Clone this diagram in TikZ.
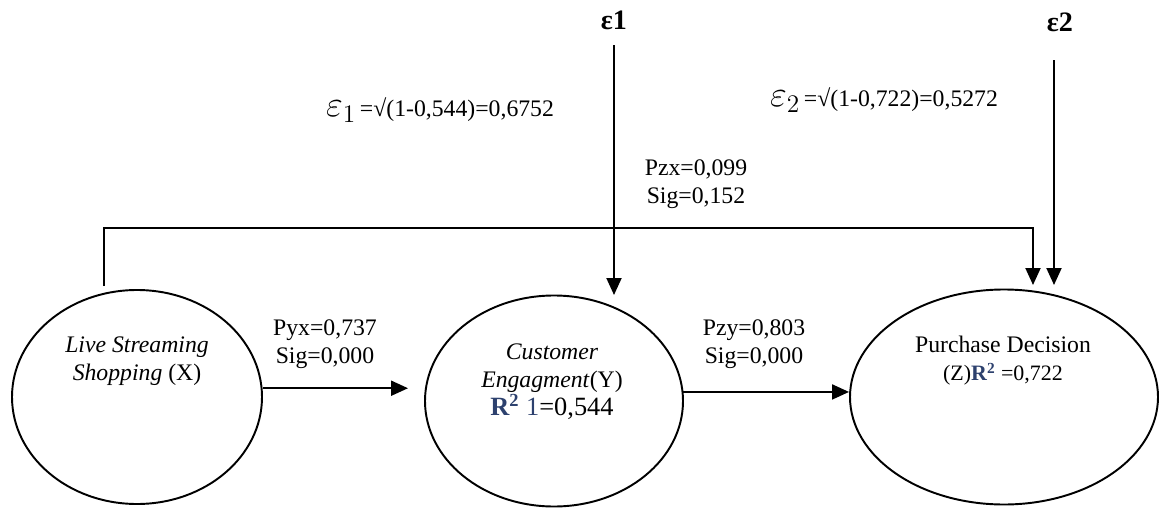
\documentclass[tikz,border=0pt]{standalone}
\usepackage{fontspec}
\setmainfont{Liberation Serif}
\usetikzlibrary{arrows.meta,shapes.geometric,positioning}
\definecolor{rsq}{RGB}{45,65,110}

\begin{document}
\begin{tikzpicture}[->,>={Triangle[length=0.34cm,width=0.3cm]}, line width=1.1pt,
  var/.style={draw,ellipse,inner sep=0pt},
  txt/.style={align=center,inner sep=0pt,font=\fontsize{13.5}{16}\selectfont},
  err/.style={inner sep=0pt,font=\bfseries\fontsize{16}{16}\selectfont}]
  \useasboundingbox (0,0) rectangle (23.32,10.18);

  \node [var,minimum width=5cm,minimum height=4.28cm] (lss) at (2.74,2.24) {};
  \node [var,minimum width=5.16cm,minimum height=4.22cm] (ce) at (11.08,2.16) {};
  \node [var,minimum width=6.16cm,minimum height=4.3cm] (pd) at (20.08,2.24) {};

  \node [txt] (lsstext) at (2.74,2.96) {\textit{Live Streaming}\\\textit{Shopping} (X)};
  \node [txt] (cetext) at (11.04,2.54) {\textit{Customer}\\\textit{Engagment}(Y)\\{\fontsize{15}{16}\selectfont\textcolor{rsq}{\textbf{R\textsuperscript{2}} 1}=0,544}};
  \node [txt] (pdtext) at (20.06,2.96) {Purchase Decision\\{\fontsize{12.5}{16}\selectfont(Z)\textcolor{rsq}{\textbf{R\textsuperscript{2}}} =0,722}};

  \node [txt] (pyx) at (6.5,3.3) {Pyx=0,737\\Sig=0,000};
  \node [txt] (pzy) at (15.08,3.3) {Pzy=0,803\\Sig=0,000};
  \node [txt] (pzx) at (13.92,6.5) {Pzx=0,099\\Sig=0,152};

  \node [err] (e1) at (12.28,9.78) {ε1};
  \node [err] (e2) at (21.2,9.74) {ε2};
  \node [txt] (e1val) at (8.8,7.98) {{\fontsize{22}{22}\selectfont$\varepsilon_1$}\,=√(1-0,544)=0,6752};
  \node [txt] (e2val) at (17.68,8.18) {{\fontsize{22}{22}\selectfont$\varepsilon_2$}\,=√(1-0,722)=0,5272};

  \coordinate (pyxend) at ([xshift=-0.32cm]ce.west);
  \coordinate (e1end) at (12.28,4.28);
  \coordinate (e2start) at (21.08,8.98);
  \coordinate (e2end) at (21.08,4.48);
  \coordinate (pzxstart) at (2.08,4.46);
  \coordinate (pzxtop) at (13.92,5.62);
  \coordinate (pzxend) at (20.66,4.48);

  \draw (lss.4) -- (lss.4 -| pyxend);
  \draw (ce.4) -- (ce.4 -| pd.west);
  \draw (pzxstart) |- (pzxtop) -| (pzxend);
  \draw ([yshift=-0.3cm]e1.south) -- (e1end);
  \draw (e2start) -- (e2end);
\end{tikzpicture}
\end{document}
